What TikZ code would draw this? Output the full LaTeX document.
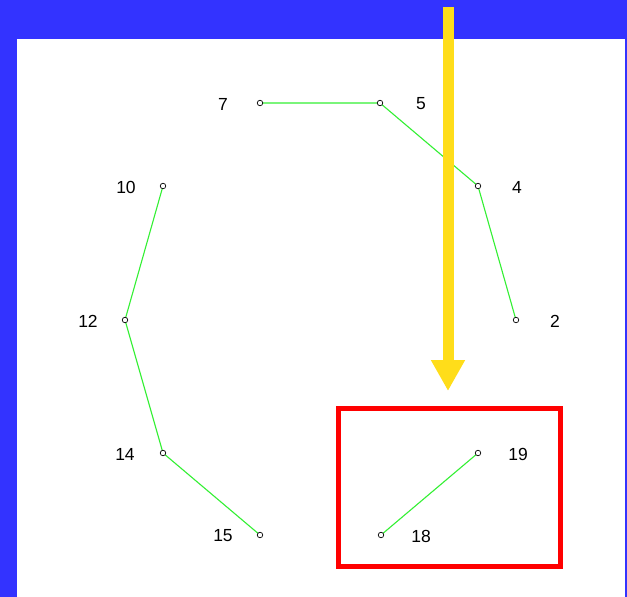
\documentclass[tikz,border=0pt]{standalone}
\usepackage{fontspec}
\setmainfont{Liberation Sans}
\usetikzlibrary{arrows.meta,positioning}
\definecolor{Frame}{HTML}{3333FF}
\definecolor{Edge}{HTML}{33F033}
\definecolor{Marker}{HTML}{FFDD1A}
\definecolor{Box}{HTML}{FF0000}

\begin{document}
\begin{tikzpicture}[x=1pt,y=-1pt,font=\fontsize{17.5}{20}\selectfont,
      pt/.style={circle,draw=black,fill=white,line width=0.7pt,
                 minimum size=5.5pt,inner sep=0pt},
      lbl/.style={inner sep=0pt,anchor=center},
      link/.style={Edge,line width=1.1pt},
      pointer/.style={-{Triangle[length=31pt,width=32pt]},Marker,line width=11pt}]
    \useasboundingbox (0,0) rectangle (627,597);
    \fill[Frame] (0,0) rectangle (627,597);
    \fill[white] (17,39) rectangle (625,597);

    % points and their numbers
    \foreach \n/\x/\y/\lx in {7/260/103/223,5/380/103/421,4/478/186/517,
                              2/516/320/555,10/163/186/126,12/125/320/88,
                              14/163/453/125,15/260/535/223,19/478/453/518,
                              18/381/535/421}{%
      \coordinate (c\n) at (\x,\y);
      \node[lbl] (l\n) at (\lx,\y+1) {\n};
    }

    % connectors
    \draw[link] (c7) -- (c5) -- (c4) -- (c2);
    \draw[link] (c10) -- (c12) -- (c14) -- (c15);
    \draw[link] (c19) -- (c18);

    \foreach \n in {7,5,4,2,10,12,14,15,19,18}{%
      \node[pt] (p\n) at (c\n) {};
    }

    % highlight
    \node[draw=Box,line width=5pt,minimum width=222pt,minimum height=158pt,
          inner sep=0pt] (focus) at (449.5,487.5) {};
    \coordinate (arrowtop) at (448,7);
    \coordinate (arrowtip) at (448,391);
    \draw[pointer] (arrowtop) -- (arrowtip);
  \end{tikzpicture}
\end{document}
